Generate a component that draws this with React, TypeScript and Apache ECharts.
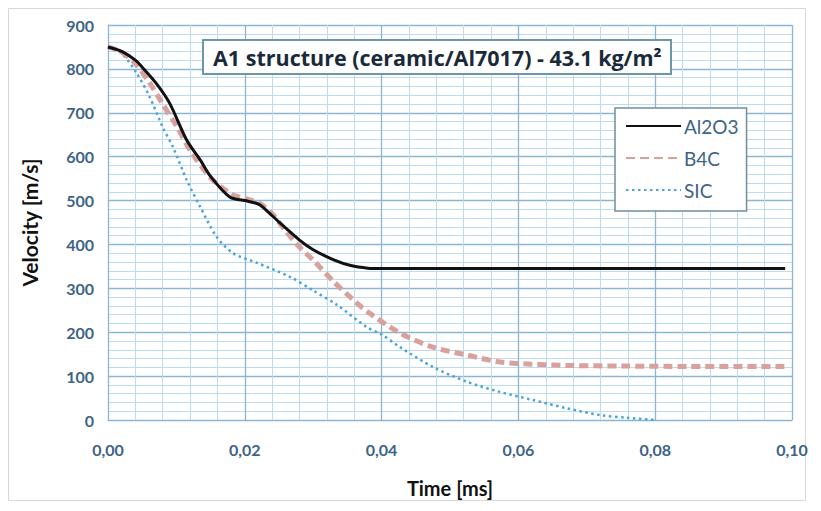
import React, { useEffect, useRef } from "react";
import * as echarts from "echarts";

const titleText = "A1 structure (ceramic/Al7017) - 43.1 kg/m²";
const xAxisTitle = "Time [ms]";
const yAxisTitle = "Velocity [m/s]";
const seriesNames = ["Al2O3", "B4C", "SIC"];

const al2o3T = [0, 0.002, 0.004, 0.005, 0.007, 0.009, 0.0115, 0.0135, 0.015, 0.0178, 0.02, 0.022, 0.023, 0.025, 0.028, 0.03, 0.033, 0.0355, 0.038, 0.04, 0.06, 0.08, 0.099];
const al2o3V = [850, 840, 820, 804, 768, 722, 638, 592, 555, 508, 500, 492, 480, 451, 410, 388, 365, 352, 346, 345, 345, 345, 345];

const b4cT = [0, 0.002, 0.004, 0.006, 0.008, 0.01, 0.012, 0.015, 0.018, 0.02, 0.022, 0.024, 0.026, 0.028, 0.03, 0.033, 0.036, 0.038, 0.0427, 0.0475, 0.0525, 0.0573, 0.062, 0.068, 0.075, 0.085, 0.099];
const b4cV = [850, 838, 812, 770, 720, 670, 615, 552, 515, 505, 495, 470, 430, 394, 364, 315, 272, 246, 198, 166, 148, 132, 127, 124, 123, 122, 122];

const sicT = [0, 0.002, 0.0042, 0.0061, 0.008, 0.0095, 0.0115, 0.0135, 0.0159, 0.0183, 0.0218, 0.0266, 0.03, 0.0335, 0.0378, 0.04, 0.0427, 0.0475, 0.0525, 0.0573, 0.062, 0.067, 0.072, 0.076, 0.08];
const sicV = [850, 835, 790, 736, 667, 622, 547, 485, 417, 380, 358, 326, 295, 262, 212, 195, 166, 121, 87, 64, 46, 27, 11, 5, 0];

const pairs = (t: number[], v: number[]) => t.map((x, i) => [x, v[i]]);

const labelColor = "#3d6385";
const font = "Lato, 'Open Sans', 'DejaVu Sans', sans-serif";

export default function App() {
  const ref = useRef<HTMLDivElement>(null);
  useEffect(() => {
    if (!ref.current) return;
    const chart = echarts.init(ref.current, undefined, { renderer: "svg" });
    chart.setOption({
      animation: false,
      backgroundColor: "#ffffff",
      graphic: [
        {
          type: "rect",
          shape: { x: 0.5, y: 0.5, width: 797, height: 492 },
          style: { fill: "none", stroke: "#d8d8d8", lineWidth: 1 },
          silent: true,
        },
      ],
      title: {
        text: titleText,
        left: 195,
        top: 32,
        padding: [4, 10, 4, 10],
        borderColor: "#6b97a8",
        borderWidth: 2,
        backgroundColor: "#ffffff",
        textStyle: { fontFamily: "'Open Sans', Lato, sans-serif", fontWeight: "bold", fontSize: 21.5, lineHeight: 26, color: "#1a2a3a" },
      },
      legend: {
        orient: "vertical",
        left: 607,
        top: 100,
        padding: [7, 8, 10, 10],
        itemGap: 10,
        itemWidth: 55,
        itemHeight: 14,
        borderColor: "#6f8f9f",
        borderWidth: 1.5,
        backgroundColor: "#ffffff",
        itemStyle: { opacity: 0 },
        data: seriesNames,
        textStyle: { fontFamily: font, fontSize: 19, lineHeight: 22, color: labelColor, padding: [0, 0, 0, -2] },
      },
      grid: { left: 100, right: 21, top: 17, bottom: 83, containLabel: false },
      xAxis: {
        type: "value",
        min: 0,
        max: 0.1,
        interval: 0.02,
        name: xAxisTitle,
        nameLocation: "middle",
        nameGap: 58,
        nameTextStyle: { fontFamily: font, fontWeight: "bold", fontSize: 20, color: "#111" },
        axisLine: { show: true, lineStyle: { color: "#8ab6d4", width: 1 } },
        axisTick: { show: false },
        axisLabel: {
          margin: 21,
          fontFamily: font,
          fontWeight: "bold",
          fontSize: 16,
          color: labelColor,
          formatter: (v: number) => v.toFixed(2).replace(".", ","),
        },
        splitLine: { show: true, lineStyle: { color: "#8ab6d4", width: 1.3 } },
        minorTick: { show: false, splitNumber: 5 },
        minorSplitLine: { show: true, lineStyle: { color: "#bfdbee", width: 1 } },
      },
      yAxis: {
        type: "value",
        min: 0,
        max: 900,
        interval: 100,
        name: yAxisTitle,
        nameLocation: "middle",
        nameGap: 68,
        nameTextStyle: { fontFamily: font, fontWeight: "bold", fontSize: 21, color: "#111" },
        axisLine: { show: true, lineStyle: { color: "#8ab6d4", width: 1 } },
        axisTick: { show: false },
        axisLabel: { margin: 14, fontFamily: font, fontWeight: "bold", fontSize: 16, color: labelColor },
        splitLine: { show: true, lineStyle: { color: "#8ab6d4", width: 1.3 } },
        minorTick: { show: false, splitNumber: 5 },
        minorSplitLine: { show: true, lineStyle: { color: "#bfdbee", width: 1 } },
      },
      series: [
        {
          name: seriesNames[0],
          type: "line",
          data: pairs(al2o3T, al2o3V),
          smooth: 0.3,
          symbol: "none",
          z: 4,
          itemStyle: { color: "#111111" },
          lineStyle: { color: "#111111", width: 3 },
        },
        {
          name: seriesNames[1],
          type: "line",
          data: pairs(b4cT, b4cV),
          smooth: 0.3,
          symbol: "none",
          z: 3,
          itemStyle: { color: "#d9a19b" },
          lineStyle: { color: "#d9a19b", width: 5, type: [9, 5] },
        },
        {
          name: seriesNames[2],
          type: "line",
          data: pairs(sicT, sicV),
          smooth: 0.3,
          symbol: "none",
          z: 2,
          itemStyle: { color: "#4aa3dc" },
          lineStyle: { color: "#4aa3dc", width: 2.5, type: [2.5, 3.5] },
        },
      ],
    });
    return () => chart.dispose();
  }, []);
  return <div ref={ref} style={{ width: 805, height: 495 }} />;
}
